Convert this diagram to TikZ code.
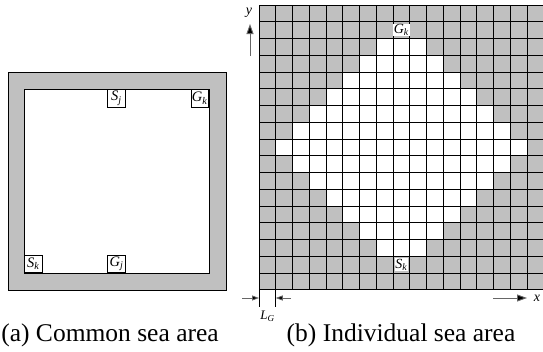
\documentclass[tikz,border=0pt]{standalone}
\usepackage{fontspec}
\setmainfont{Liberation Serif}
\usetikzlibrary{arrows.meta}
\definecolor{seagray}{RGB}{192,192,192}
\newcommand\lbl[2]{\textit{#1}\textsubscript{\textit{#2}}}
\begin{document}
\begin{tikzpicture}[x=1pt,y=-1pt,
  cornerbox/.style={draw=black,line width=1pt,fill=white,minimum size=17.5pt,inner sep=0pt,font=\fontsize{14.5}{16}\selectfont},
  celllbl/.style={fill=white,inner sep=0.6pt,font=\fontsize{14}{15}\selectfont},
  gridline/.style={line width=1pt,draw=black},
  axisarrow/.style={line width=0.9pt,draw=black!60,-{Triangle[length=10pt,width=7pt,fill=black]}},
  dimarrow/.style={line width=0.8pt,draw=black!60,-{Triangle[length=7pt,width=5pt,fill=black]}},
  caption/.style={font=\fontsize{25.5}{28}\selectfont,inner sep=0pt}]
\useasboundingbox (0,0) rectangle (543,351);
% ---------- (a) common sea area ----------
\draw[fill=seagray,draw=black,line width=0.9pt] (8,72) rectangle (226,290);
\draw[fill=white,draw=black,line width=0.9pt] (24,89) rectangle (209,273);
\coordinate (innerNW) at (24,89);
\coordinate (innerNE) at (209,89);
\coordinate (innerSW) at (24,273);
\coordinate (innerS) at (116.5,273);
\coordinate (innerN) at (116.5,89);
\node[cornerbox,anchor=north] (sj) at (innerN) {\lbl{S}{j}};
\node[cornerbox,anchor=north east] (gka) at (innerNE) {\lbl{G}{k}};
\node[cornerbox,anchor=south west] (ska) at (innerSW) {\lbl{S}{k}};
\node[cornerbox,anchor=south] (gj) at (innerS) {\lbl{G}{j}};
% ---------- (b) individual sea area ----------
\fill[seagray] (259,5) rectangle ++({17*16.75},{17*16.75});
\foreach \r in {0,...,16}{
  \foreach \c in {0,...,16}{
    \pgfmathtruncatemacro\w{and(abs(\r-8)+abs(\c-8)<8, abs(\r-8)<7)}
    \ifnum\w=1
      \fill[white] ({259+\c*16.75},{5+\r*16.75}) rectangle ++(16.75,16.75);
    \fi
  }
}
\foreach \i in {0,...,17}{
  \draw[gridline] ({259+\i*16.75},5) -- ++(0,{17*16.75});
  \draw[gridline] (259,{5+\i*16.75}) -- ++({17*16.75},0);
}
\node[celllbl] (gkb) at ({259+8.5*16.75},{5+1.5*16.75}) {\lbl{G}{k}};
\node[celllbl] (skb) at ({259+8.5*16.75},{5+15.5*16.75}) {\lbl{S}{k}};
% y axis
\coordinate (ystart) at (250,56);
\coordinate (yend) at (250,24);
\draw[axisarrow] (ystart) -- (yend);
\node[font=\fontsize{14}{15}\selectfont\itshape,inner sep=0pt] (ylab) at (249,13) {y};
% x axis
\coordinate (xstart) at (493,298);
\coordinate (xend) at (527,298);
\draw[axisarrow] (xstart) -- (xend);
\node[font=\fontsize{14}{15}\selectfont\itshape,inner sep=0pt] (xlab) at (537,298) {x};
% L_G dimension
\coordinate (t1a) at (259,290);
\coordinate (t1b) at (259,307);
\coordinate (t2a) at (275.75,290);
\coordinate (t2b) at (275.75,307);
\draw[line width=0.8pt] (t1a) -- (t1b);
\draw[line width=0.8pt] (t2a) -- (t2b);
\coordinate (dl) at (242,298);
\coordinate (dlend) at (259,298);
\coordinate (dr) at (291,298);
\coordinate (drend) at (275.75,298);
\draw[dimarrow] (dl) -- (dlend);
\draw[dimarrow] (dr) -- (drend);
\node[font=\fontsize{13}{14}\selectfont,inner sep=0pt] (lg) at (267.5,316) {\lbl{L}{G}};
% captions
\node[caption] (capa) at (110,335) {(a) Common sea area};
\node[caption] (capb) at (401,335) {(b) Individual sea area};
\end{tikzpicture}
\end{document}
